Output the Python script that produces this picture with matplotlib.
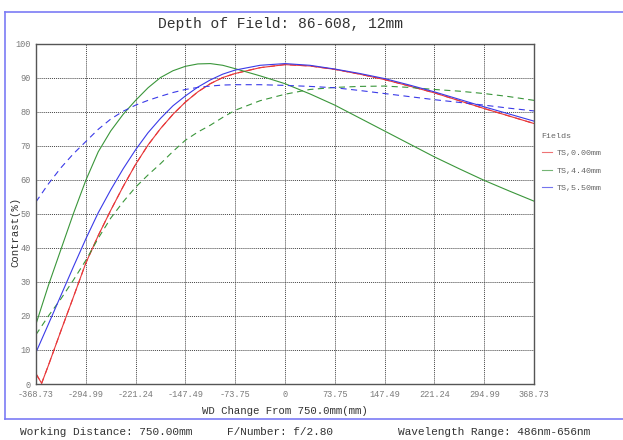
import matplotlib
matplotlib.use("Agg")
import matplotlib.pyplot as plt
from matplotlib.lines import Line2D

plt.rcParams['font.family'] = ['Liberation Mono', 'DejaVu Sans Mono']

# WD change (mm): denser sampling on the steep left part
wd = [-368.73, -350.29, -331.86, -313.42, -294.99, -276.55, -258.11, -239.68,
      -221.24, -202.80, -184.37, -165.93, -147.49, -129.06, -110.62, -92.18,
      -73.75, -36.87, 0, 36.87, 73.75, 110.62, 147.49, 184.37, 221.24,
      258.11, 294.99, 331.86, 368.73]
xticks = [-368.73, -294.99, -221.24, -147.49, -73.75, 0, 73.75, 147.49,
          221.24, 294.99, 368.73]

# on-axis curve has a V at the left edge
wd_red = [-368.73, -360.4] + wd[1:]
red_t = [3.0, 0.2, 5.5, 15.6, 25.5, 35.5, 43.6, 51.0, 58.0, 64.5, 70.2, 75.0,
         79.2, 82.8, 85.8, 88.2, 90.0, 91.2, 92.9, 93.8, 93.4, 92.4, 91.0,
         89.4, 87.5, 85.5, 83.2, 80.9, 78.7, 76.5]
red_s = red_t

green_t = [17.6, 29.0, 39.5, 50.0, 59.8, 68.2, 74.3, 79.2, 83.3, 87.0, 90.0,
           92.0, 93.3, 94.0, 94.1, 93.6, 92.6, 90.5, 88.2, 85.2, 81.9, 78.1,
           74.3, 70.5, 66.7, 63.2, 59.8, 56.7, 53.7]
green_s = [14.5, 20.0, 25.0, 30.5, 36.3, 42.8, 48.7, 53.5, 57.8, 61.4, 64.7,
           68.3, 71.6, 74.0, 76.0, 78.3, 80.4, 83.2, 85.1, 86.5, 87.1, 87.4,
           87.5, 87.1, 86.5, 86.0, 85.3, 84.4, 83.3]

blue_t = [9.3, 17.6, 26.0, 34.4, 42.6, 50.3, 57.0, 63.2, 68.8, 73.8, 78.0,
          81.7, 84.6, 87.2, 89.3, 91.0, 92.2, 93.6, 94.1, 93.6, 92.5, 91.2,
          89.7, 87.8, 85.8, 83.6, 81.4, 79.3, 77.2]
blue_s = [53.5, 58.8, 63.5, 67.6, 71.2, 74.8, 77.8, 80.1, 81.9, 83.3, 84.5,
          85.6, 86.5, 87.1, 87.5, 87.8, 87.9, 87.9, 87.7, 87.4, 87.0, 86.2,
          85.3, 84.4, 83.5, 82.7, 81.9, 81.0, 80.2]

fields = ["TS,0.00mm", "TS,4.40mm", "TS,5.50mm"]
red, green, blue = "#e8383a", "#3a963a", "#3a3ae8"

fig = plt.figure(figsize=(6.23, 4.40), dpi=100)
ax = fig.add_axes([36/623, 1-384/440, 498/623, 340.5/440])

dash = (0, (5.5, 4))
ax.plot(wd_red, red_t, color=red, lw=0.8)
ax.plot(wd_red, red_s, color=red, lw=0.8, ls=dash)
ax.plot(wd, green_t, color=green, lw=0.8)
ax.plot(wd, green_s, color=green, lw=0.8, ls=dash)
ax.plot(wd, blue_t, color=blue, lw=0.8)
ax.plot(wd, blue_s, color=blue, lw=0.8, ls=dash)

ax.set_xlim(-368.73, 368.73)
ax.set_ylim(0, 100)
ax.set_xticks(xticks)
ax.set_xticklabels(["%g" % t if t == 0 else "%.2f" % t for t in xticks])
ax.set_yticks(range(0, 101, 10))
ax.tick_params(length=0, labelsize=6.2, labelcolor="#7a7a7a", pad=4)
ax.grid(True, color="#444444", ls=(0, (1, 1)), lw=0.7)
for s in ax.spines.values():
    s.set_color("#555555")
    s.set_linewidth(1.0)

ax.set_xlabel("WD Change From 750.0mm(mm)", fontsize=7.7, color="#333333", labelpad=5)
fig.text(15/623, 1-232/440, "Contrast(%)", rotation=90, fontsize=7.7,
         color="#333333", ha="center", va="center")
fig.text(280/623, 1-24/440, "Depth of Field: 86-608, 12mm", fontsize=10.5,
         color="#333333", ha="center", va="center")

handles = [Line2D([], [], color=c, lw=0.8, alpha=0.7) for c in (red, green, blue)]
leg = ax.legend(handles, fields, title="Fields", loc="upper left",
                bbox_to_anchor=(1.0, 0.76), frameon=False, fontsize=6,
                title_fontsize=6, handlelength=1.2, handletextpad=0.6,
                labelspacing=1.15, alignment="left", labelcolor="#666666")
leg.get_title().set_color("#666666")

# frame lines
fc = "#7b7bf5"
fig.add_artist(Line2D([5/623, 1], [1-12/440, 1-12/440], color=fc, lw=1.2))
fig.add_artist(Line2D([5/623, 5/623], [1-12/440, 1-419/440], color=fc, lw=1.2))
fig.add_artist(Line2D([5/623, 1], [1-419/440, 1-419/440], color=fc, lw=1.2))

fig.text(20/623, 1-432/440, "Working Distance: 750.00mm", fontsize=8, color="#333333", va="center")
fig.text(227/623, 1-432/440, "F/Number: f/2.80", fontsize=8, color="#333333", va="center")
fig.text(398/623, 1-432/440, "Wavelength Range: 486nm-656nm", fontsize=8, color="#333333", va="center")

fig.savefig("out.png", dpi=100)
